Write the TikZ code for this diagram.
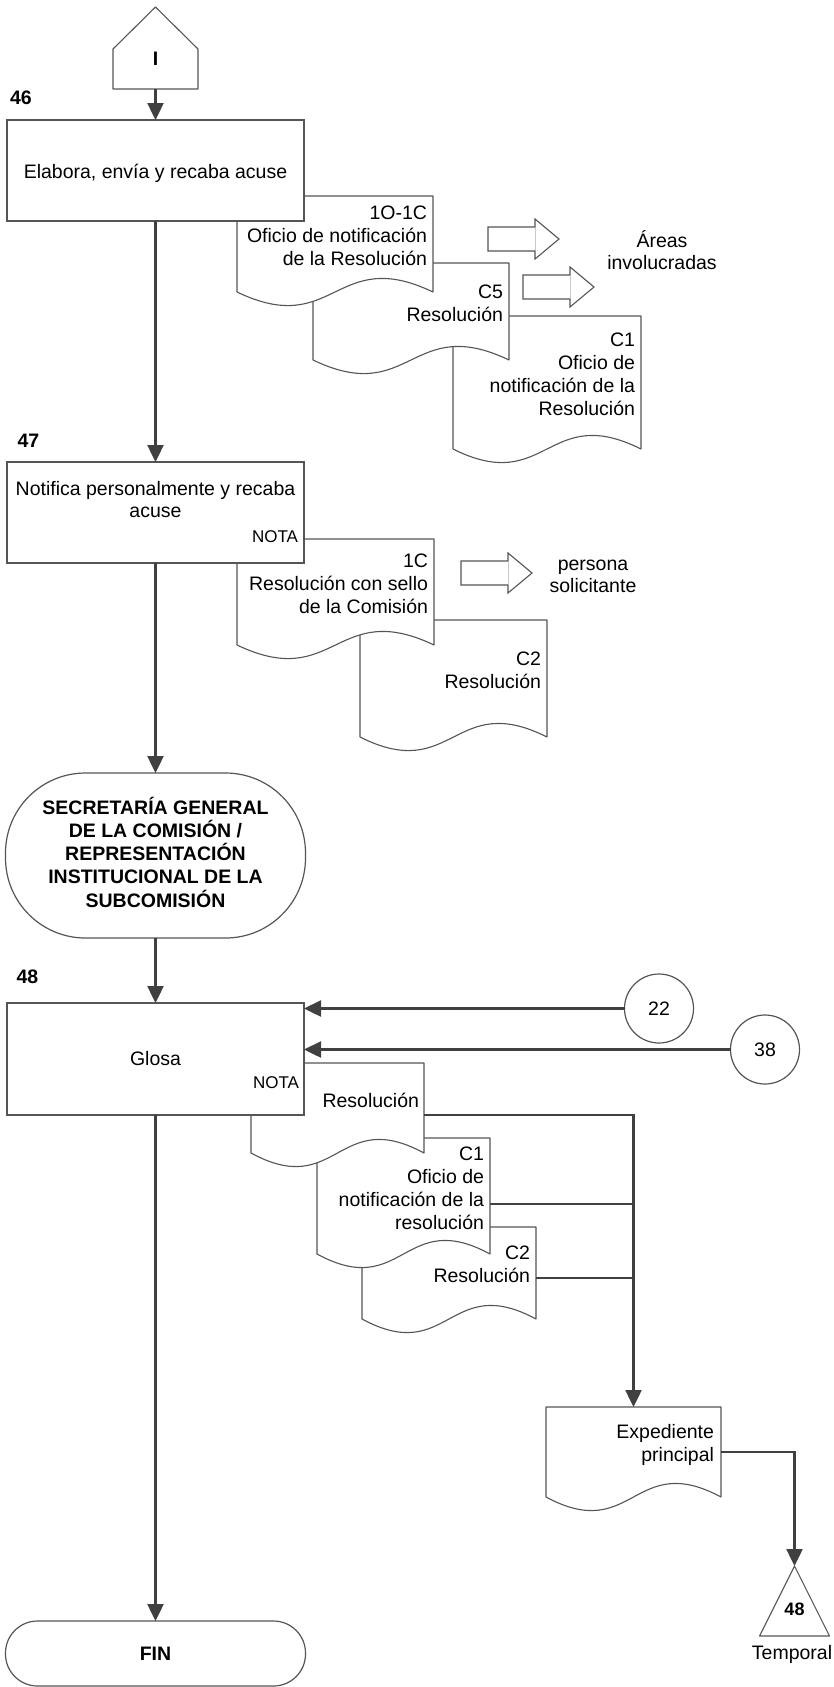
\documentclass[tikz,border=0pt]{standalone}
\usepackage{fontspec}
\setmainfont{Liberation Sans}
\usetikzlibrary{arrows.meta,calc}
\definecolor{flowline}{HTML}{404040}
\definecolor{shapeline}{HTML}{555555}
\definecolor{seamline}{HTML}{C8C8C8}
\newcommand{\fmain}{\fontsize{19.5}{23}\selectfont}
\newcommand{\fnote}{\fontsize{17}{20}\selectfont}
% right- and centre-aligned line stacks whose baseline is the first line
\newcommand{\rtext}[1]{\vtop{\halign{\hfil##\cr#1\crcr}}}
\newcommand{\ctext}[1]{\vtop{\halign{\hfil##\hfil\cr#1\crcr}}}
% document symbol: name, left, top, right, bottom of the wavy edge
\newcommand{\fcdoc}[5]{%
  \node[docbox, minimum width={(#4)-(#2)}, minimum height={(#5)-(#3)}] (#1) at ({((#2)+(#4))/2},{((#3)+(#5))/2}) {};
  \draw[docline] (#1.south west) -- (#1.north west) -- (#1.north east) -- (#1.south east)
    .. controls ($(#1.south)+(0,-47)$) and ($(#1.south)+(0,47)$) .. (#1.south west) -- cycle;
}
% hollow block arrow: body left x, centre y
\newcommand{\blockarrow}[2]{%
  \draw[barrow] (#1,#2-12) -- (#1+47,#2-12) -- (#1+47,#2-20) -- (#1+71,#2) -- (#1+47,#2+20) -- (#1+47,#2+12) -- (#1,#2+12) -- cycle;
  \draw[seamline, line width=0.8pt] (#1+47,#2-11.4) -- (#1+47,#2+11.4);
}
\begin{document}
\begin{tikzpicture}[x=1pt,y=-1pt,
  box/.style={draw=shapeline, line width=1.2pt, fill=white, inner sep=0pt, outer sep=0pt},
  docbox/.style={draw=none, rectangle, inner sep=0pt, outer sep=0pt},
  docline/.style={draw=shapeline, line width=1.1pt, fill=white, line join=round},
  barrow/.style={draw=shapeline, line width=1.1pt, fill=white, line join=miter},
  flow/.style={draw=flowline, line width=2.4pt, -{Triangle[length=17pt,width=16pt]}},
  link/.style={draw=flowline, line width=2.4pt},
  txt/.style={inner sep=0pt, outer sep=0pt, font=\fmain},
  btxt/.style={inner sep=0pt, outer sep=0pt, font=\fmain\bfseries},
  note/.style={inner sep=0pt, outer sep=0pt, font=\fnote}]

\fill[white] (0,0) rectangle (834,1687);
\useasboundingbox (0,0) rectangle (834,1687);

% ---------------- activity 46 ----------------
\node[docbox, minimum width=85, minimum height=82] (conn) at (155.5,48) {};
\draw[docline] (conn.south west) -- ($(conn.south west)+(0,-40)$) -- (conn.north)
  -- ($(conn.south east)+(0,-40)$) -- (conn.south east) -- cycle;
\node[btxt] (connlbl) at (155.5,58.5) {I};

\node[btxt, anchor=base] (n46) at (21,104) {46};

\fcdoc{c1a}{453}{316}{641}{449}
\node[txt, anchor=base east] (c1at) at (635,346) {\rtext{C1\cr Oficio de\cr notificación de la\cr Resolución}};
\fcdoc{c5a}{313}{263}{509}{360}
\node[txt, anchor=base east] (c5at) at (503,298) {\rtext{C5\cr Resolución}};
\fcdoc{d1a}{237}{196}{433}{292}
\node[txt, anchor=base east] (d1at) at (427,219) {\rtext{1O-1C\cr Oficio de notificación\cr de la Resolución}};

\node[box, minimum width=297, minimum height=101] (box46) at (155.5,170.5) {};
\node[txt, anchor=base] (box46t) at (155.5,178) {Elabora, envía y recaba acuse};

\blockarrow{488}{239}
\blockarrow{523}{287}
\node[txt, font=\fontsize{19.5}{22}\selectfont, anchor=base] (areas) at (662,247) {\ctext{Áreas\cr involucradas}};

% ---------------- activity 47 ----------------
\node[btxt, anchor=base] (n47) at (28.5,447) {47};

\fcdoc{c2b}{360}{620}{547}{737}
\node[txt, anchor=base east] (c2bt) at (541,665) {\rtext{C2\cr Resolución}};
\fcdoc{d1b}{237}{539}{434}{645}
\node[txt, anchor=base east] (d1bt) at (428,567) {\rtext{1C\cr Resolución con sello\cr de la Comisión}};

\node[box, minimum width=297, minimum height=101] (box47) at (155.5,512.5) {};
\node[txt, font=\fontsize{19.5}{22}\selectfont, anchor=base] (box47t) at (155.5,495) {\ctext{Notifica personalmente y recaba\cr acuse}};
\node[note, anchor=base east] (nota47) at (298,542) {NOTA};

\blockarrow{461}{573}
\node[txt, font=\fontsize{19.5}{22}\selectfont, anchor=base] (persona) at (593,570) {\ctext{persona\cr solicitante}};

% ---------------- responsible area ----------------
\node[box, rounded corners=80, minimum width=300, minimum height=165] (term) at (155.5,855.5) {};
\node[btxt, font=\fontsize{19.5}{23.3}\selectfont\bfseries, anchor=base] (termt) at (155.5,814)
  {\ctext{SECRETARÍA GENERAL\cr DE LA COMISIÓN /\cr REPRESENTACIÓN\cr INSTITUCIONAL DE LA\cr SUBCOMISIÓN}};

% ---------------- activity 48 ----------------
\node[btxt, anchor=base] (n48) at (27.5,983) {48};

\fcdoc{c2c}{362}{1227}{536}{1319}
\node[txt, anchor=base east] (c2ct) at (530,1259) {\rtext{C2\cr Resolución}};
\fcdoc{c1c}{317}{1138}{490}{1254}
\node[txt, font=\fontsize{19.5}{23.3}\selectfont, anchor=base east] (c1ct) at (484,1160) {\rtext{C1\cr Oficio de\cr notificación de la\cr resolución}};
\fcdoc{resc}{251}{1063}{424}{1153}
\node[txt, anchor=base east] (resct) at (419,1107) {Resolución};

\node[box, minimum width=297, minimum height=112] (box48) at (155.5,1059) {};
\node[txt, anchor=base] (box48t) at (155.5,1065) {Glosa};
\node[note, anchor=base east] (nota48) at (299,1088) {NOTA};

\node[box, circle, minimum size=69] (c22) at (659,1008.5) {};
\node[txt] (c22t) at (659,1008.5) {22};
\node[box, circle, minimum size=69] (c38) at (765,1049.5) {};
\node[txt] (c38t) at (765,1049.5) {38};

\fcdoc{exp}{546}{1407}{721}{1497}
\node[txt, anchor=base east] (expt) at (714,1438) {\rtext{Expediente\cr principal}};

\node[docbox, minimum width=70, minimum height=70] (tri) at (794.5,1601) {};
\draw[docline] (tri.south west) -- (tri.north) -- (tri.south east) -- cycle;
\node[btxt, font=\fontsize{18}{20}\selectfont\bfseries, anchor=base] (trit) at (794.5,1615) {48};
\node[txt, anchor=base] (temporal) at (792,1659) {Temporal};

\node[box, rounded corners=32, minimum width=300, minimum height=65] (fin) at (155.5,1653.5) {};
\node[btxt] (fint) at (155.5,1654) {FIN};

% ---------------- connectors ----------------
\coordinate (resout) at (424,1115);
\coordinate (c1out) at (490,1204);
\coordinate (c2out) at (536,1278);
\coordinate (expout) at (721,1452);

\draw[flow] (conn.south) -- (box46.north);
\draw[flow] (box46.south) -- (box47.north);
\draw[flow] (box47.south) -- (term.north);
\draw[flow] (term.south) -- (box48.north);
\draw[flow] (box48.south) -- (fin.north);
\draw[flow] (c22.west) -- (c22.west -| box48.east);
\draw[flow] (c38.west) -- (c38.west -| box48.east);
\draw[flow] (resout) -| (exp.north);
\draw[link] (c1out) -- (c1out -| exp.north);
\draw[link] (c2out) -- (c2out -| exp.north);
\draw[flow] (expout) -| (tri.north);
\end{tikzpicture}
\end{document}
